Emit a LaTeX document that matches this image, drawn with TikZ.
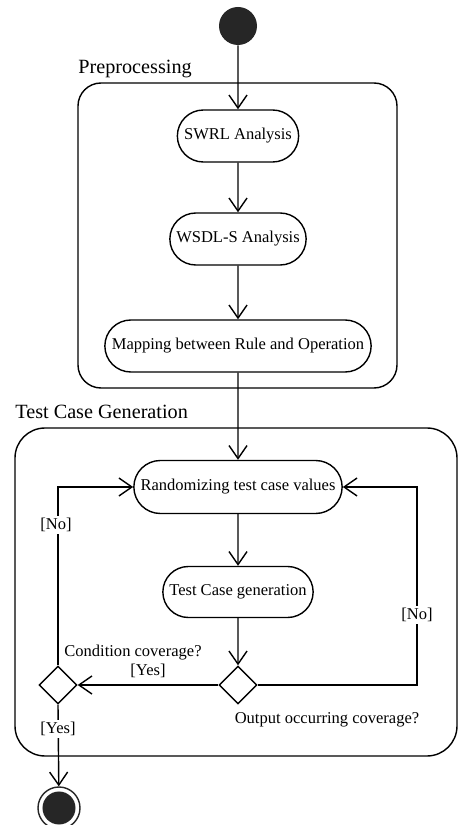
\documentclass[tikz,border=0pt]{standalone}
\usepackage{fontspec}
\setmainfont{Liberation Serif}
\usetikzlibrary{shapes.geometric, shapes.misc, arrows.meta, positioning}

\begin{document}
\begin{tikzpicture}
		\tikzstyle{Action} = [rounded rectangle, minimum height=1.04cm, text centered, draw=black, line width=0.8pt, font=\fontsize{9.4}{11}\selectfont]
		\tikzstyle{Decision} = [diamond, minimum size=0.76cm, inner sep=0pt, draw=black, line width=0.8pt]
		\tikzstyle{Region} = [draw=black, line width=0.8pt]
		\tikzstyle{RegionLabel} = [anchor=west, inner sep=0pt, font=\fontsize{11.5}{13}\selectfont]
		\tikzstyle{Guard} = [inner sep=1pt, font=\fontsize{9.4}{11}\selectfont]
		\tikzstyle{arrow} = [line width=0.8pt, -{Straight Barb[length=2.6mm, width=3.6mm]}]
		
		\path [use as bounding box, fill=white] (0, 0) rectangle (9.18, 16.5);
		
		% regions
		\draw [Region, rounded corners=0.46cm] (1.56, 8.74) rectangle (7.94, 14.84);
		\node (pre) [RegionLabel] at (1.56, 15.12) {Preprocessing};
		\draw [Region, rounded corners=0.6cm] (0.3, 1.38) rectangle (9.14, 7.94);
		\node (gen) [RegionLabel] at (0.3, 8.26) {Test Case Generation};
		
		% start and end
		\node (start) [circle, fill=black!85, minimum size=0.76cm] at (4.76, 15.98) {};
		\node (end) [circle, draw=black!85, line width=0.8pt, minimum size=0.84cm] at (1.18, 0.34) {};
		\node (endin) [circle, fill=black!85, minimum size=0.66cm] at (end) {};
		
		% actions
		\node (swrl) [Action, minimum width=2.66cm] at (4.76, 13.78) {SWRL Analysis};
		\node (wsdl) [Action, minimum width=2.96cm] at (4.76, 11.72) {WSDL-S Analysis};
		\node (map) [Action, minimum width=5.56cm] at (4.76, 9.58) {Mapping between Rule and Operation};
		\node (rand) [Action, minimum width=4.4cm, minimum height=1.06cm] at (4.76, 6.76) {Randomizing test case values};
		\node (tcg) [Action, minimum width=3.24cm, minimum height=1.02cm] at (4.76, 4.66) {Test Case generation};
		
		% decisions
		\node (out) [Decision] at (4.76, 2.8) {};
		\node (cond) [Decision] at (1.16, 2.8) {};
		\coordinate (rloop) at (8.34, 4.2);
		
		\draw [arrow] (start) -- (swrl);
		\draw [arrow] (swrl) -- (wsdl);
		\draw [arrow] (wsdl) -- (map);
		\draw [arrow] (map) -- (rand);
		\draw [arrow] (rand) -- (tcg);
		\draw [arrow] (tcg) -- (out.north);
		\draw [arrow] (out.west) -- (cond.east);
		\draw [arrow] (out.east) -| (rloop) |- (rand.east);
		\draw [arrow] (cond.north) |- (rand.west);
		\draw [arrow] (cond.south) -- (end);
		
		% guards
		\node (no1) [Guard, fill=white] at (1.12, 6.0) {[No]};
		\node (no2) [Guard, fill=white] at (rloop) {[No]};
		\node (yes1) [Guard, fill=white] at (1.16, 1.92) {[Yes]};
		\node (yes2) [Guard] at (2.96, 3.08) {[Yes]};
		\node (condq) [Guard] at (2.66, 3.44) {Condition coverage?};
		\node (outq) [Guard] at (6.54, 2.1) {Output occurring coverage?};
\end{tikzpicture}
\end{document}
